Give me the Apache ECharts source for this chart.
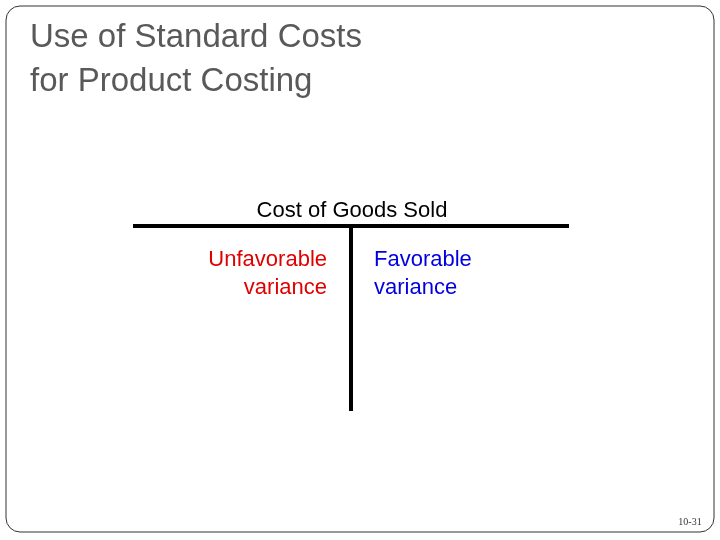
<!DOCTYPE html>
<html><head><meta charset="utf-8">
<script src="https://cdn.jsdelivr.net/npm/echarts@6/dist/echarts.min.js"></script>
<style>html,body{margin:0;padding:0;background:#fff}#c{width:720px;height:540px}</style>
</head><body><div id="c"></div>
<script>
const titleLines = ['Use of Standard Costs', 'for Product Costing'];
const accountName = 'Cost of Goods Sold';
const debitLines = ['Unfavorable', 'variance'];
const creditLines = ['Favorable', 'variance'];
const pageLabel = '10-31';

const chart = echarts.init(document.getElementById('c'));
const g = [];
const F = '"Liberation Sans", Arial, sans-serif';
g.push({type:'rect', shape:{x:6,y:6,width:708,height:526,r:14}, style:{fill:'none',stroke:'#333',lineWidth:1}});
titleLines.forEach((t,i)=>g.push({type:'text', x:30, y:38+i*44, style:{text:t, font:'33px '+F, fill:'#595959', verticalAlign:'middle'}}));
g.push({type:'text', x:352, y:211, style:{text:accountName, font:'22px '+F, fill:'#000', align:'center', verticalAlign:'middle'}});
g.push({type:'line', shape:{x1:133,y1:226,x2:569,y2:226}, style:{stroke:'#000',lineWidth:4}});
g.push({type:'line', shape:{x1:351,y1:226,x2:351,y2:411}, style:{stroke:'#000',lineWidth:4}});
debitLines.forEach((t,i)=>g.push({type:'text', x:327, y:260+i*28, style:{text:t, font:'22px '+F, fill:'#e00000', align:'right', verticalAlign:'middle'}}));
creditLines.forEach((t,i)=>g.push({type:'text', x:374, y:260+i*28, style:{text:t, font:'22px '+F, fill:'#0000e0', align:'left', verticalAlign:'middle'}}));
g.push({type:'text', x:690, y:522, style:{text:pageLabel, font:'10px "Liberation Serif", serif', fill:'#333', align:'center', verticalAlign:'middle'}});
chart.setOption({graphic:g});
</script></body></html>
